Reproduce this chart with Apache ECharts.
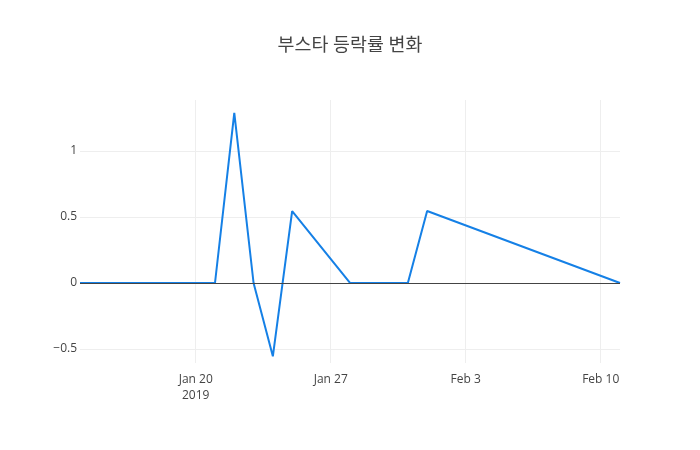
<!DOCTYPE html>
<html>
<head>
<meta charset="utf-8">
<script src="https://cdn.jsdelivr.net/npm/echarts@6/dist/echarts.min.js"></script>
<style>
  html, body { margin: 0; padding: 0; background: #fff; }
  #chart { width: 700px; height: 450px; }
</style>
</head>
<body>
<div id="chart"></div>
<script>
// --- 데이터 ---
const dates = [
    '2019-01-14', '2019-01-15', '2019-01-16', '2019-01-17', '2019-01-18',
    '2019-01-21', '2019-01-22', '2019-01-23', '2019-01-24', '2019-01-25',
    '2019-01-28', '2019-01-29', '2019-01-30', '2019-01-31', '2019-02-01',
    '2019-02-11'
];
const changeRates = [
    0, 0, 0, 0, 0,
    0, 1.288, 0, -0.555, 0.545,
    0, 0, 0, 0, 0.545,
    0
];
const xTickDates = ['2019-01-20', '2019-01-27', '2019-02-03', '2019-02-10'];
const yTickValues = [-0.5, 0, 0.5, 1];
const monthNames = ['Jan', 'Feb', 'Mar', 'Apr', 'May', 'Jun', 'Jul', 'Aug', 'Sep', 'Oct', 'Nov', 'Dec'];

// 날짜 문자열 -> UTC 타임스탬프
const toTime = (s) => {
    const [y, m, d] = s.split('-').map(Number);
    return Date.UTC(y, m - 1, d);
};

const chart = echarts.init(document.getElementById('chart'));

const textColor = '#444';
const fontFamily = '"Open Sans", "Noto Sans CJK KR", sans-serif';

chart.setOption({
    animation: false,
    backgroundColor: '#fff',
    textStyle: { fontFamily: fontFamily },
    title: {
        text: '부스타 등락률 변화',
        left: 'center',
        top: 32,
        textStyle: {
            fontFamily: fontFamily,
            fontSize: 18.4,
            fontWeight: 'normal',
            color: textColor
        }
    },
    grid: { left: 80, right: 80, top: 100, bottom: 87 },
    xAxis: {
        type: 'value',
        min: toTime(dates[0]),
        max: toTime(dates[dates.length - 1]),
        axisLine: { show: false },
        axisTick: { show: false, customValues: xTickDates.map(toTime) },
        splitLine: { show: true, lineStyle: { color: '#eee', width: 1 } },
        axisLabel: {
            customValues: xTickDates.map(toTime),
            color: textColor,
            fontSize: 12,
            margin: 9,
            lineHeight: 16,
            hideOverlap: false,
            formatter: (val) => {
                const d = new Date(val);
                const label = monthNames[d.getUTCMonth()] + ' ' + d.getUTCDate();
                return d.getUTCDate() === 20 && d.getUTCMonth() === 0
                    ? label + '\n' + d.getUTCFullYear()
                    : label;
            }
        }
    },
    yAxis: {
        type: 'value',
        min: -0.606,
        max: 1.386,
        axisLine: { show: false },
        axisTick: { show: false, customValues: yTickValues },
        splitLine: { show: true, lineStyle: { color: '#eee', width: 1 } },
        axisLabel: {
            customValues: yTickValues,
            color: textColor,
            fontSize: 12,
            margin: 3,
            formatter: (v) => (v < 0 ? '\u2212' + Math.abs(v) : String(v))
        }
    },
    series: [
        {
            // 0 기준선
            type: 'line',
            data: [],
            z: 1,
            markLine: {
                silent: true,
                symbol: 'none',
                label: { show: false },
                lineStyle: { color: textColor, width: 1, type: 'solid' },
                data: [{ yAxis: 0 }]
            }
        },
        {
            type: 'line',
            z: 3,
            data: dates.map((d, i) => [toTime(d), changeRates[i]]),
            showSymbol: false,
            symbol: 'none',
            lineStyle: { color: '#1580e6', width: 2 },
            itemStyle: { color: '#1580e6' }
        }
    ]
});
</script>
</body>
</html>
